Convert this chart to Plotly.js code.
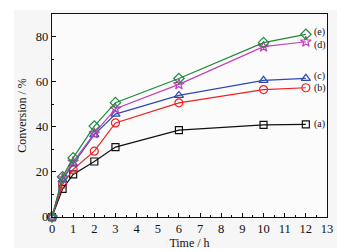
<!DOCTYPE html>
<html><head><meta charset="utf-8">
<script src="https://cdn.plot.ly/plotly-3.0.1.min.js"></script>
<style>
html,body{margin:0;padding:0;background:#fff;}
#bg{position:absolute;left:14px;top:10px;width:323px;height:238px;background:#f6f6f6;}
#chart{position:absolute;left:0;top:0;width:347px;height:252px;}
</style></head>
<body>
<div id="bg"></div>
<div id="chart"></div>
<script>
var time = [0, 0.5, 1, 2, 3, 6, 10, 12];
var seriesA = [0, 12.5, 18.9, 24.6, 31.0, 38.5, 40.8, 41.1];
var seriesB = [0, 14.5, 21.1, 29.2, 41.7, 50.6, 56.5, 57.3];
var seriesC = [0, 16.5, 23.5, 36.5, 45.6, 53.9, 60.6, 61.5];
var seriesD = [0, 17.0, 24.5, 37.0, 48.0, 58.8, 75.5, 77.7];
var seriesE = [0, 17.8, 26.2, 40.3, 50.7, 61.4, 77.3, 81.0];
var labels = ["(a)", "(b)", "(c)", "(d)", "(e)"];
var labelY = [41.1, 57.0, 62.6, 76.4, 82.0];

var all = [seriesA, seriesB, seriesC, seriesD, seriesE];
var colors = ["#111111", "#f02020", "#3048b0", "#c040b8", "#208a38"];
var symbols = ["square-open", "circle-open", "triangle-up-open", "star-open", "diamond-open"];
var sizes = [7, 8, 8, 8, 8];
var FONT = "Times New Roman, Liberation Serif, serif";

var traces = all.map(function(s, i){
  return {x: time, y: s, type: "scatter", mode: "lines+markers",
    line: {color: colors[i], width: 1.2},
    marker: {symbol: symbols[i], size: sizes[i], color: colors[i], line: {width: 1.2, color: colors[i]}},
    showlegend: false, cliponaxis: false};
});

var ann = labels.map(function(t, i){
  return {x: 12.3, y: labelY[i], xref: "x", yref: "y", text: t, showarrow: false,
    xanchor: "left", yanchor: "middle", font: {family: FONT, size: 10, color: "#111"}};
});

var layout = {
  width: 347, height: 252,
  margin: {l: 52, r: 20, t: 14, b: 34.5},
  paper_bgcolor: "rgba(0,0,0,0)", plot_bgcolor: "#fbfbfb",
  font: {family: FONT, color: "#111"},
  xaxis: {range: [0, 13], dtick: 1, ticks: "inside", ticklen: 4, tickwidth: 1, tickcolor: "#111",
    minor: {dtick: 0.5, ticks: "inside", ticklen: 2, tickcolor: "#111"},
    showgrid: false, zeroline: false, showline: true, linecolor: "#111", linewidth: 1.2, mirror: true,
    tickfont: {family: FONT, size: 12.5, color: "#111"},
    title: {text: "Time / h", font: {family: FONT, size: 12, color: "#111"}, standoff: 2}},
  yaxis: {range: [0, 90], dtick: 20, ticks: "inside", ticklen: 4, tickwidth: 1, tickcolor: "#111",
    minor: {dtick: 10, ticks: "inside", ticklen: 2, tickcolor: "#111"},
    showgrid: false, zeroline: false, showline: true, linecolor: "#111", linewidth: 1.2, mirror: true,
    tickfont: {family: FONT, size: 12.5, color: "#111"},
    title: {text: "Conversion / %", font: {family: FONT, size: 12, color: "#111"}, standoff: 6}},
  annotations: ann
};
Plotly.newPlot("chart", traces, layout, {displayModeBar: false, staticPlot: true});
</script>
</body></html>
